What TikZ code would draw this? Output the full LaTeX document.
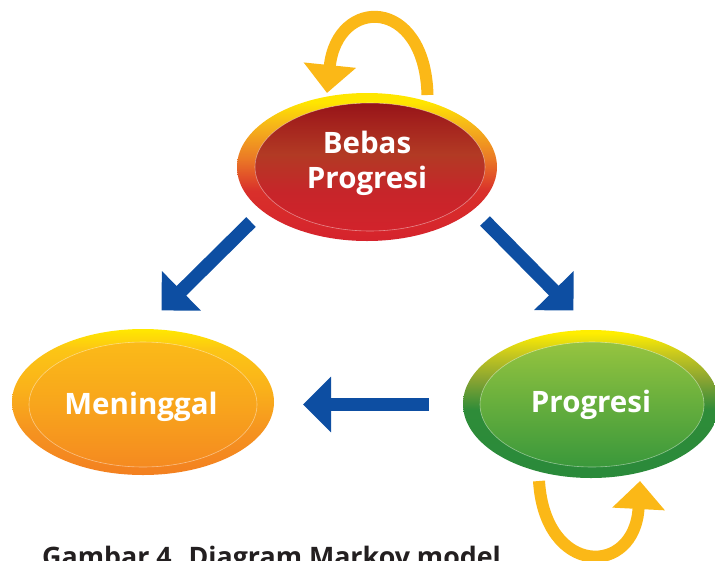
\documentclass[tikz,border=0pt]{standalone}
\usepackage{fontspec}
\setmainfont{Open Sans}
\usetikzlibrary{arrows.meta,shapes.geometric}
\definecolor{arrowblue}{HTML}{0D4EA2}
\definecolor{loopyellow}{HTML}{FBB817}
\definecolor{captiongray}{HTML}{231F20}
% Bebas colours
\definecolor{bO1}{HTML}{D5232C}
\definecolor{bO2}{HTML}{D9302B}
\definecolor{bO3}{HTML}{EB7A26}
\definecolor{bO4}{HTML}{F6B51A}
\definecolor{bO5}{HTML}{FFE600}
\definecolor{bI1}{HTML}{D2232B}
\definecolor{bI2}{HTML}{C7252A}
\definecolor{bI3}{HTML}{B23A24}
\definecolor{bI4}{HTML}{A3211D}
\definecolor{bI5}{HTML}{961418}
% Progresi colours
\definecolor{pO1}{HTML}{2A8A3A}
\definecolor{pO2}{HTML}{2E8C39}
\definecolor{pO3}{HTML}{86A332}
\definecolor{pO4}{HTML}{C8C81E}
\definecolor{pO5}{HTML}{FFEE00}
\definecolor{pI1}{HTML}{3A983B}
\definecolor{pI2}{HTML}{66AE3D}
\definecolor{pI3}{HTML}{96C43F}
% Meninggal colours
\definecolor{mO1}{HTML}{F38020}
\definecolor{mO2}{HTML}{F59320}
\definecolor{mO3}{HTML}{FAB21A}
\definecolor{mO4}{HTML}{FCC515}
\definecolor{mO5}{HTML}{FFE800}
\definecolor{mI1}{HTML}{F58A20}
\definecolor{mI2}{HTML}{F8A51C}
\definecolor{mI3}{HTML}{FBBA18}
\pgfdeclareverticalshading{bebasO}{100bp}{color(0bp)=(bO1); color(25bp)=(bO1); color(42bp)=(bO2); color(53bp)=(bO3); color(64bp)=(bO4); color(72bp)=(bO5); color(100bp)=(bO5)}
\pgfdeclareverticalshading{bebasI}{100bp}{color(0bp)=(bI1); color(25bp)=(bI1); color(40bp)=(bI2); color(55bp)=(bI3); color(68bp)=(bI4); color(75bp)=(bI5); color(100bp)=(bI5)}
\pgfdeclareverticalshading{progO}{100bp}{color(0bp)=(pO1); color(25bp)=(pO1); color(48bp)=(pO2); color(58bp)=(pO3); color(67bp)=(pO4); color(74bp)=(pO5); color(100bp)=(pO5)}
\pgfdeclareverticalshading{progI}{100bp}{color(0bp)=(pI1); color(25bp)=(pI1); color(50bp)=(pI2); color(75bp)=(pI3); color(100bp)=(pI3)}
\pgfdeclareverticalshading{menO}{100bp}{color(0bp)=(mO1); color(25bp)=(mO1); color(40bp)=(mO2); color(55bp)=(mO3); color(68bp)=(mO4); color(75bp)=(mO5); color(100bp)=(mO5)}
\pgfdeclareverticalshading{menI}{100bp}{color(0bp)=(mI1); color(25bp)=(mI1); color(50bp)=(mI2); color(75bp)=(mI3); color(100bp)=(mI3)}
\tikzset{
  outerell/.style={ellipse, inner sep=0pt, draw=none},
  innerell/.style={ellipse, inner sep=0pt, draw=white, draw opacity=0.45, line width=0.6pt},
  lbl/.style={anchor=base, text=white, font=\bfseries\fontsize{29.5}{35}\selectfont, inner sep=0pt},
  bluearrow/.style={draw=arrowblue, line width=13.5pt, -{Triangle[length=28pt,width=54pt]}},
  looparrow/.style={draw=loopyellow, line width=12pt, -{Triangle[length=28pt,width=51pt]}},
  captionstyle/.style={anchor=base west, text=captiongray, font=\bfseries\fontsize{26.8}{32}\selectfont, inner sep=0pt}
}
\begin{document}
\begin{tikzpicture}[x=1pt,y=-1pt]
\useasboundingbox (0,0) rectangle (715,560);
\clip (0,0) rectangle (715,560);
% Bebas Progresi
\node[outerell, shading=bebasO, minimum width=260pt, minimum height=148pt] (bebas) at (367,167) {};
\node[innerell, shading=bebasI, minimum width=230pt, minimum height=128pt] (bebasin) at (370,167) {};
\node[lbl] (bebas1) at (367,153) {Bebas};
\node[lbl] (bebas2) at (367,188) {Progresi};
% Progresi
\node[outerell, shading=progO, minimum width=256pt, minimum height=148pt] (prog) at (591,404) {};
\node[innerell, shading=progI, minimum width=224pt, minimum height=125pt] (progin) at (592,404.5) {};
\node[lbl] (progtxt) at (591,412) {Progresi};
% Meninggal
\node[outerell, shading=menO, minimum width=262pt, minimum height=146pt] (men) at (143,402) {};
\node[innerell, shading=menI, minimum width=228pt, minimum height=125pt] (menin) at (143,404.5) {};
\node[lbl] (mentxt) at (141,414) {Meninggal};
% blue arrows
\coordinate (a1s) at (251,222);
\coordinate (a1e) at (161.5,310.5);
\coordinate (a2s) at (485,221);
\coordinate (a2e) at (573.5,310.5);
\coordinate (a3s) at (429,404.5);
\coordinate (a3e) at (303,404.5);
\draw[bluearrow] (a1s) -- (a1e);
\draw[bluearrow] (a2s) -- (a2e);
\draw[bluearrow] (a3s) -- (a3e);
% yellow self loops
\coordinate (l1s) at (427.5,95);
\coordinate (l1e) at (327,93);
\coordinate (l2s) at (539,481);
\coordinate (l2e) at (640,481);
\draw[looparrow] (l1s) .. controls (425,-4) and (337,-4) .. (l1e);
\draw[looparrow] (l2s) .. controls (545,577) and (635,577) .. (l2e);
% caption
\node[captionstyle] (caption) at (42,566) {Gambar 4. Diagram Markov model};
\end{tikzpicture}
\end{document}
